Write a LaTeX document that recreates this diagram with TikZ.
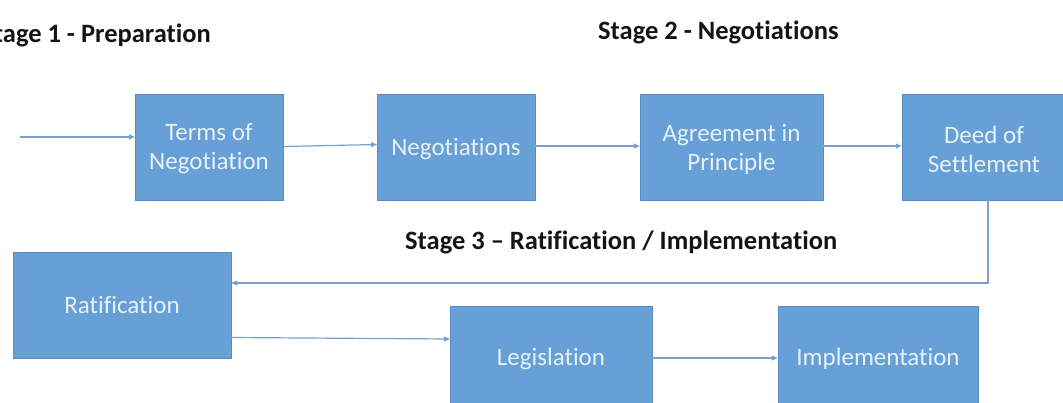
\documentclass[tikz,border=0pt]{standalone}
\usepackage{fontspec}
\setmainfont[Ligatures=NoCommon]{Carlito}
\usetikzlibrary{arrows.meta}
\definecolor{boxfill}{RGB}{102,160,214}
\definecolor{boxedge}{RGB}{86,140,194}
\definecolor{boxtext}{RGB}{232,240,249}
\definecolor{linkblue}{RGB}{120,160,205}
\definecolor{headtext}{RGB}{20,20,20}
\tikzset{
  stagebox/.style={fill=boxfill, draw=boxedge, line width=0.9pt},
  boxlabel/.style={text=boxtext, font=\fontsize{25}{29}\selectfont, align=center, inner sep=0pt},
  stagehead/.style={text=headtext, font=\fontsize{26.5}{30}\selectfont\bfseries, inner sep=0pt},
  link/.style={draw=linkblue, line width=1.2pt, -{Triangle[length=6pt,width=5pt]}}
}
% box from (x0,y0) to (x1,y1) named #1; label #7 shifted down by #6
\newcommand{\boxat}[7]{%
  \path[stagebox] (#2,#3) rectangle (#4,#5);
  \node[minimum width={(#4-#2)*1pt}, minimum height={(#5-#3)*1pt}, inner sep=0pt]
        (#1) at ({(#2+#4)/2},{(#3+#5)/2}) {};
  \node[boxlabel] at ([yshift=-#6]#1.center) {#7};}
\begin{document}
\begin{tikzpicture}[x=1pt,y=-1pt]
\useasboundingbox (0,0) rectangle (1063,402);
\clip (0,0) rectangle (1063,402);
\fill[white] (0,0) rectangle (1063,402);

% stage headings
\node[stagehead, anchor=east] (h1) at (211,35) {Stage 1 - Preparation};
\node[stagehead, anchor=west] (h2) at (598,32) {Stage 2 - Negotiations};
\node[stagehead, anchor=west] (h3) at (405,242) {Stage 3 – Ratification / Implementation};

% process boxes
\boxat{terms}{135}{94}{283}{200}{2pt}{Terms of\\Negotiation}
\boxat{nego}{377}{94}{535}{200}{2pt}{Negotiations}
\boxat{aip}{640}{94}{823}{200}{2pt}{Agreement in\\Principle}
\boxat{deed}{902}{94}{1066}{200}{2pt}{Deed of\\Settlement}
\boxat{rat}{13}{252}{231}{358}{0pt}{Ratification}
\boxat{leg}{450}{306}{652}{412}{0pt}{Legislation}
\boxat{impl}{778}{306}{978}{412}{0pt}{Implementation}

% connectors
\coordinate (start) at (20,137);
\coordinate (bend) at (988,283);
\draw[link] (start) -- (start -| terms.west);
\draw[link] (283,146.5) -- (377,144.5);
\draw[link] (nego.east |- 0,146) -- (aip.west |- 0,146);
\draw[link] (aip.east |- 0,146) -- (deed.west |- 0,146);
\draw[link] (deed.south -| bend) -- (bend) -- (bend -| rat.east);
\draw[link] (231,337.5) -- (450,339);
\draw[link] (leg.east |- 0,358) -- (impl.west |- 0,358);
\end{tikzpicture}
\end{document}
